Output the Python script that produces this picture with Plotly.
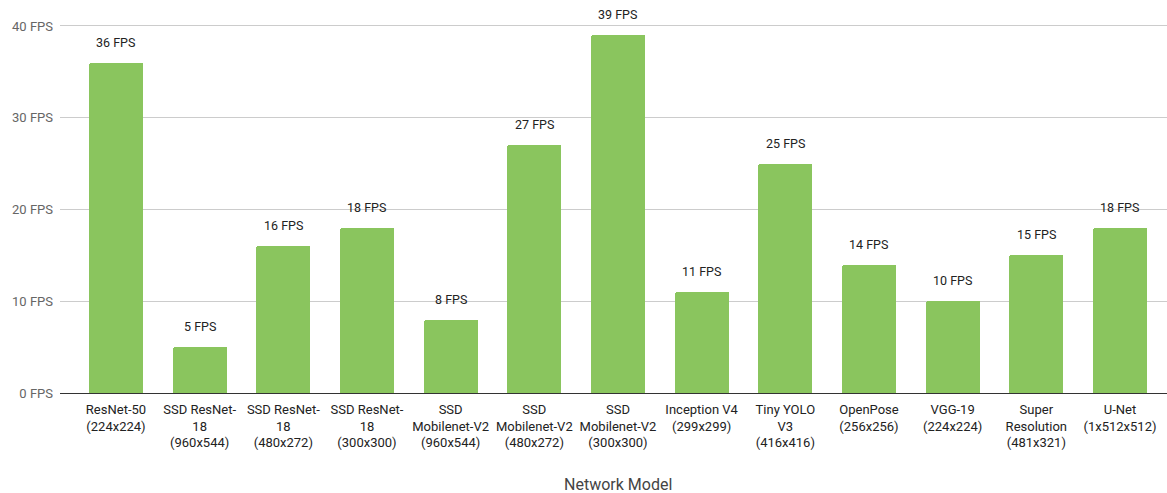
import plotly.graph_objects as go

categories = [
    "ResNet-50<br>(224x224)",
    "SSD ResNet-<br>18<br>(960x544)",
    "SSD ResNet-<br>18<br>(480x272)",
    "SSD ResNet-<br>18<br>(300x300)",
    "SSD<br>Mobilenet-V2<br>(960x544)",
    "SSD<br>Mobilenet-V2<br>(480x272)",
    "SSD<br>Mobilenet-V2<br>(300x300)",
    "Inception V4<br>(299x299)",
    "Tiny YOLO<br>V3<br>(416x416)",
    "OpenPose<br>(256x256)",
    "VGG-19<br>(224x224)",
    "Super<br>Resolution<br>(481x321)",
    "U-Net<br>(1x512x512)",
]
fps = [36, 5, 16, 18, 8, 27, 39, 11, 25, 14, 10, 15, 18]
y_ticks = [0, 10, 20, 30, 40]
y_tick_labels = ["0 FPS", "10 FPS", "20 FPS", "30 FPS", "40 FPS"]
bar_labels = [f"{v} FPS" for v in fps]
x_title = "Network Model"

xs = list(range(len(categories)))

fig = go.Figure(go.Bar(
    x=xs,
    y=fps,
    width=0.645,
    marker=dict(color="#8AC55E", line=dict(width=0), cornerradius=2),
    hoverinfo="skip",
))

for xi, v, lab in zip(xs, fps, bar_labels):
    fig.add_annotation(
        x=xi, y=v, text=lab, showarrow=False,
        xanchor="center", yanchor="bottom", yshift=11,
        font=dict(family="Roboto", size=12.5, color="#222222"),
    )

fig.add_annotation(
    x=0.504, y=-0.2316, xref="paper", yref="paper",
    text=x_title, showarrow=False,
    xanchor="center", yanchor="middle",
    font=dict(family="Roboto", size=16, color="#444444"),
)

fig.update_layout(
    width=1167, height=493,
    margin=dict(l=60, r=0, t=0, b=100),
    plot_bgcolor="white", paper_bgcolor="white",
    font=dict(family="Roboto", size=13, color="#222222"),
    showlegend=False,
    bargap=0,
    xaxis=dict(
        tickmode="array",
        tickvals=xs,
        ticktext=categories,
        range=[-0.669, 12.562],
        showgrid=False,
        ticks="",
        automargin=False,
        ticklabelstandoff=4,
        tickfont=dict(family="Roboto", size=13, color="#222222"),
        showline=True, linecolor="#333333", linewidth=1,
    ),
    yaxis=dict(
        range=[0, 42.83],
        tickmode="array",
        tickvals=y_ticks,
        ticktext=y_tick_labels,
        showgrid=True, gridcolor="#cccccc", gridwidth=1,
        zeroline=False,
        ticks="",
        automargin=False,
        ticklabelstandoff=6,
        tickfont=dict(family="Roboto", size=13, color="#666666"),
    ),
)

fig.write_html("out.html", config={"displayModeBar": False},
               post_script="document.body.style.margin='0';")
